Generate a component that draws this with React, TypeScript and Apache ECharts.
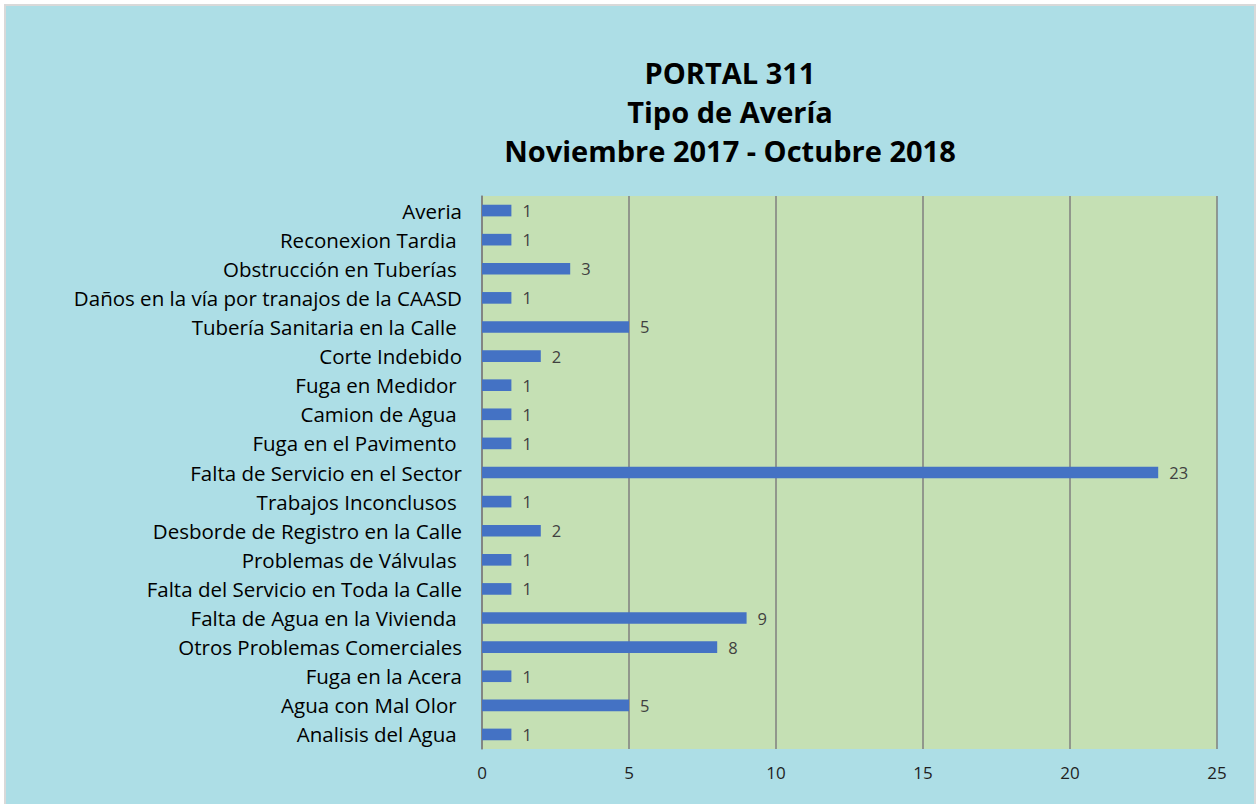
import React, { useEffect, useRef } from "react";
import * as echarts from "echarts";

const categories = [
  "Averia",
  "Reconexion Tardia ",
  "Obstrucción en Tuberías ",
  "Daños en la vía por tranajos de la CAASD",
  "Tubería Sanitaria en la Calle ",
  "Corte Indebido",
  "Fuga en Medidor ",
  "Camion de Agua ",
  "Fuga en el Pavimento ",
  "Falta de Servicio en el Sector",
  "Trabajos Inconclusos ",
  "Desborde de Registro en la Calle",
  "Problemas de Válvulas ",
  "Falta del Servicio en Toda la Calle",
  "Falta de Agua en la Vivienda ",
  "Otros Problemas Comerciales",
  "Fuga en la Acera",
  "Agua con Mal Olor ",
  "Analisis del Agua ",
];

const values = [1, 1, 3, 1, 5, 2, 1, 1, 1, 23, 1, 2, 1, 1, 9, 8, 1, 5, 1];

const titleLines = ["PORTAL 311", "Tipo de Avería", "Noviembre 2017 - Octubre 2018"];

const FONT = "'Open Sans', Lato, sans-serif";

export default function App() {
  const ref = useRef<HTMLDivElement>(null);

  useEffect(() => {
    if (!ref.current) return;
    const chart = echarts.init(ref.current, undefined, { renderer: "svg" });
    const cats = [...categories].reverse();
    const vals = [...values].reverse();
    chart.setOption({
      animation: false,
      backgroundColor: "transparent",
      title: {
        text: titleLines.join("\n"),
        left: 725,
        top: 48,
        textAlign: "center",
        textStyle: {
          fontFamily: FONT,
          fontSize: 29,
          fontWeight: "bold",
          color: "#000000",
          lineHeight: 39,
        },
      },
      grid: {
        left: 482,
        right: 43,
        top: 196,
        bottom: 55,
        show: true,
        backgroundColor: "#C5E0B4",
        borderWidth: 0,
      },
      xAxis: {
        type: "value",
        min: 0,
        max: 25,
        interval: 5,
        axisLine: { show: false },
        axisTick: { show: false },
        splitLine: { show: true, lineStyle: { color: "#7F7F7F", width: 1.5 } },
        axisLabel: {
          fontFamily: FONT,
          fontSize: 17,
          color: "#1F1F1F",
          margin: 15,
        },
      },
      yAxis: {
        type: "category",
        data: cats,
        axisLine: { show: true, lineStyle: { color: "#7F7F7F", width: 1.5 } },
        axisTick: { show: false },
        axisLabel: {
          fontFamily: FONT,
          fontSize: 20.5,
          color: "#000000",
          margin: 20,
        },
      },
      series: [
        {
          type: "bar",
          data: vals,
          barCategoryGap: "60%",
          itemStyle: { color: "#4472C4" },
          label: {
            show: true,
            position: "right",
            distance: 11,
            fontFamily: FONT,
            fontSize: 16.5,
            color: "#404040",
          },
        },
      ],
    });
    return () => chart.dispose();
  }, []);

  return (
    <div
      style={{
        position: "fixed",
        left: 0,
        top: 0,
        width: 1260,
        height: 804,
        background: "#FFFFFF",
      }}
    >
      <div
        style={{
          position: "absolute",
          left: 4,
          top: 4,
          width: 1252,
          height: 800,
          background: "#D9D9D9",
        }}
      />
      <div
        style={{
          position: "absolute",
          left: 6,
          top: 6,
          width: 1248,
          height: 798,
          background: "#ADDEE6",
        }}
      />
      <div
        ref={ref}
        style={{ position: "absolute", left: 0, top: 0, width: 1260, height: 804 }}
      />
    </div>
  );
}
